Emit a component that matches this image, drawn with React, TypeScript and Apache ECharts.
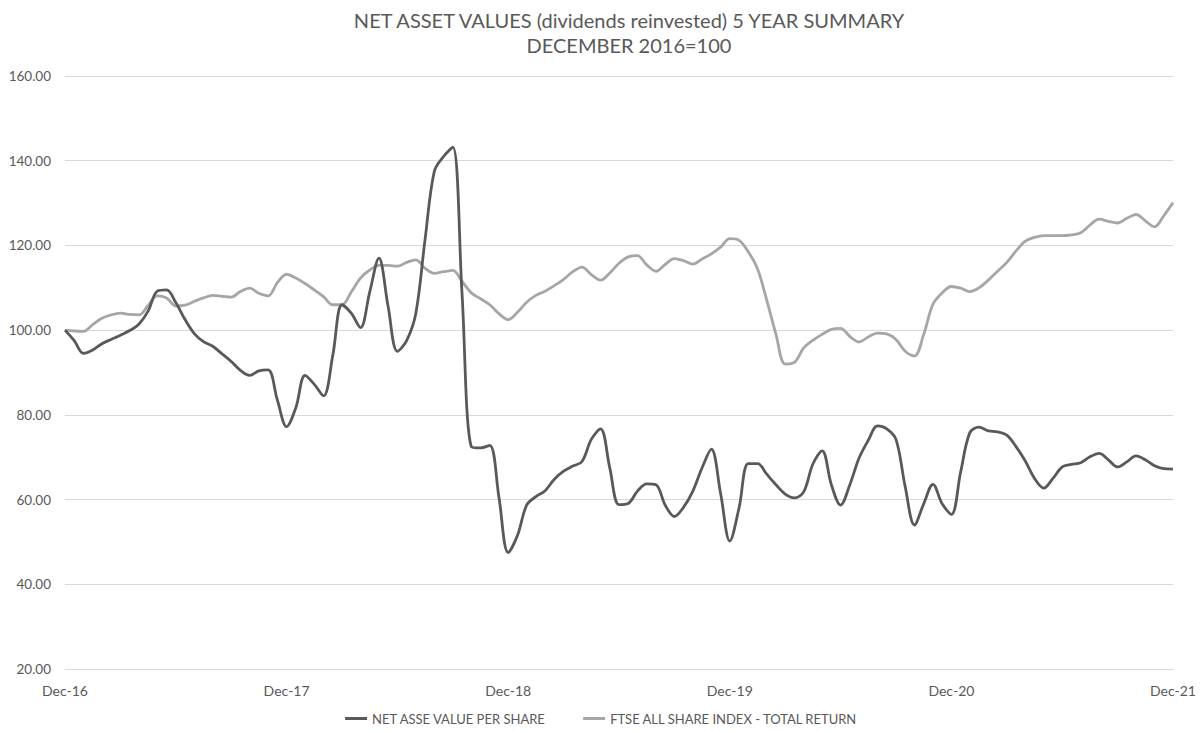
import React, { useEffect, useRef } from "react";
import * as echarts from "echarts";

// Semi-monthly observations, Dec-16 .. Dec-21 (121 points)
const navPerShare = [
  100, 97.5, 94.5, 95.3, 96.8, 97.8, 98.8, 99.9, 101.4, 104.5,
  109.2, 109.5, 106.5, 102.5, 99.2, 97.3, 96.2, 94.4, 92.6, 90.5,
  89.3, 90.4, 90.6, 83.5, 77.2, 81.7, 89.3, 87.2, 84.5, 94,
  106, 104, 100.6, 109, 117, 105.5, 95, 97.5, 104, 121.5,
  137.5, 141, 143.2, 108.6, 72.5, 72.2, 72.8, 60.5, 47.5, 51.5,
  58.7, 60.7, 62.1, 64.8, 66.7, 67.9, 69, 74.2, 76.7, 67.5,
  58.8, 59.1, 62, 63.7, 63.5, 58.7, 56, 58.2, 62, 67.5,
  71.9, 61.5, 50.2, 58, 68.5, 68.5, 66, 63.5, 61.3, 60.4,
  61.8, 68.4, 71.5, 63.5, 58.7, 63.5, 69.8, 74, 77.4, 76.7,
  74.2, 63, 54, 59, 63.6, 59, 56.5, 66.5, 75.8, 77.1,
  76.2, 76, 75.2, 72.5, 69.1, 65, 62.7, 65, 67.7, 68.3,
  68.7, 70.1, 70.9, 69.4, 67.7, 68.9, 70.3, 69.4, 68, 67.3,
  67.2,
];

const ftseAllShare = [
  100, 99.8, 99.7, 101.3, 102.8, 103.6, 104, 103.7, 103.6, 105.8,
  108.1, 107.6, 105.7, 105.9, 106.8, 107.6, 108.2, 108, 107.8, 109.1,
  109.9, 108.7, 108.1, 111.2, 113.2, 112.3, 111, 109.5, 107.9, 106,
  106, 109, 112.3, 114.2, 115.3, 115.3, 115.1, 116, 116.6, 114.6,
  113.4, 113.8, 114.1, 111.5, 108.8, 107.4, 106, 103.9, 102.5, 104.2,
  106.6, 108.2, 109.2, 110.5, 112, 113.8, 114.9, 113.1, 111.8, 113.5,
  115.8, 117.3, 117.6, 115.4, 113.9, 115.5, 116.9, 116.4, 115.6, 116.8,
  118, 119.6, 121.6, 121.2, 118.5, 114.5, 107.1, 99, 92, 92.4,
  95.8, 97.6, 99, 100.2, 100.4, 98.5, 97.2, 98.4, 99.3, 99.1,
  97.8, 95, 93.9, 99, 106.1, 108.8, 110.3, 109.9, 109.1, 110,
  111.8, 113.9, 116, 118.7, 121, 121.9, 122.3, 122.3, 122.3, 122.5,
  123, 124.8, 126.2, 125.7, 125.3, 126.4, 127.3, 125.8, 124.4, 127,
  130.1,
];

const seriesNames = ["NET ASSE VALUE PER SHARE", "FTSE ALL SHARE INDEX - TOTAL RETURN"];
const yearTickLabels = ["Dec-16", "Dec-17", "Dec-18", "Dec-19", "Dec-20", "Dec-21"];
const monthNames = ["Jan", "Feb", "Mar", "Apr", "May", "Jun", "Jul", "Aug", "Sep", "Oct", "Nov", "Dec"];

// category labels: month-end and mid-month dates
const categories: string[] = [];
for (let i = 0; i < navPerShare.length; i++) {
  const monthsFromDec16 = Math.floor(i / 2);
  const absMonth = 11 + monthsFromDec16;
  const year = 2016 + Math.floor(absMonth / 12);
  const m = absMonth % 12;
  const yy = String(year).slice(2);
  categories.push(
    i % 2 === 0
      ? `${monthNames[m]}-${yy}`
      : `15-${monthNames[(m + 1) % 12]}-${String(year + (m === 11 ? 1 : 0)).slice(2)}`
  );
}

const TEXT = "#595959";
const FONT = "Lato, 'Open Sans', sans-serif";

export default function App() {
  const ref = useRef<HTMLDivElement>(null);
  useEffect(() => {
    if (!ref.current) return;
    const chart = echarts.init(ref.current, undefined, { renderer: "svg" });
    chart.setOption({
      animation: false,
      backgroundColor: "#ffffff",
      textStyle: { fontFamily: FONT },
      title: {
        text: "NET ASSET VALUES (dividends reinvested) 5 YEAR SUMMARY\nDECEMBER 2016=100",
        left: 624,
        top: 2,
        textAlign: "center",
        textStyle: { fontSize: 20, fontWeight: "normal", color: TEXT, lineHeight: 25, fontFamily: FONT },
      },
      grid: { left: 65, right: 30, top: 76, bottom: 62, containLabel: false },
      legend: {
        bottom: 1,
        left: "center",
        icon: "rect",
        itemWidth: 22,
        itemHeight: 3,
        itemGap: 37,
        textStyle: { fontSize: 13, color: TEXT, fontFamily: FONT },
        data: seriesNames,
      },
      xAxis: {
        type: "category",
        boundaryGap: false,
        data: categories,
        axisLine: { show: true, lineStyle: { color: "#d9d9d9", width: 1 } },
        axisTick: { show: false },
        splitLine: { show: false },
        axisLabel: {
          interval: (index: number) => index % 24 === 0,
          formatter: (_v: string, index: number) => yearTickLabels[index / 24] ?? "",
          color: TEXT,
          fontSize: 14,
          margin: 14,
          fontFamily: FONT,
        },
      },
      yAxis: {
        type: "value",
        min: 20,
        max: 160,
        interval: 20,
        axisLine: { show: false },
        axisTick: { show: false },
        splitLine: { lineStyle: { color: "#d9d9d9", width: 1 } },
        axisLabel: {
          formatter: (v: number) => v.toFixed(2),
          color: TEXT,
          fontSize: 13.5,
          margin: 14,
          fontFamily: FONT,
        },
      },
      series: [
        {
          name: seriesNames[0],
          type: "line",
          data: navPerShare,
          smooth: 0.35,
          symbol: "none",
          z: 3,
          lineStyle: { color: "#595959", width: 2.8 },
          itemStyle: { color: "#595959" },
        },
        {
          name: seriesNames[1],
          type: "line",
          data: ftseAllShare,
          smooth: 0.35,
          symbol: "none",
          z: 2,
          lineStyle: { color: "#A6A6A6", width: 2.8 },
          itemStyle: { color: "#A6A6A6" },
        },
      ],
    });
    return () => chart.dispose();
  }, []);
  return (
    <div
      ref={ref}
      style={{ position: "fixed", left: 0, top: 0, width: 1203, height: 731 }}
    />
  );
}
